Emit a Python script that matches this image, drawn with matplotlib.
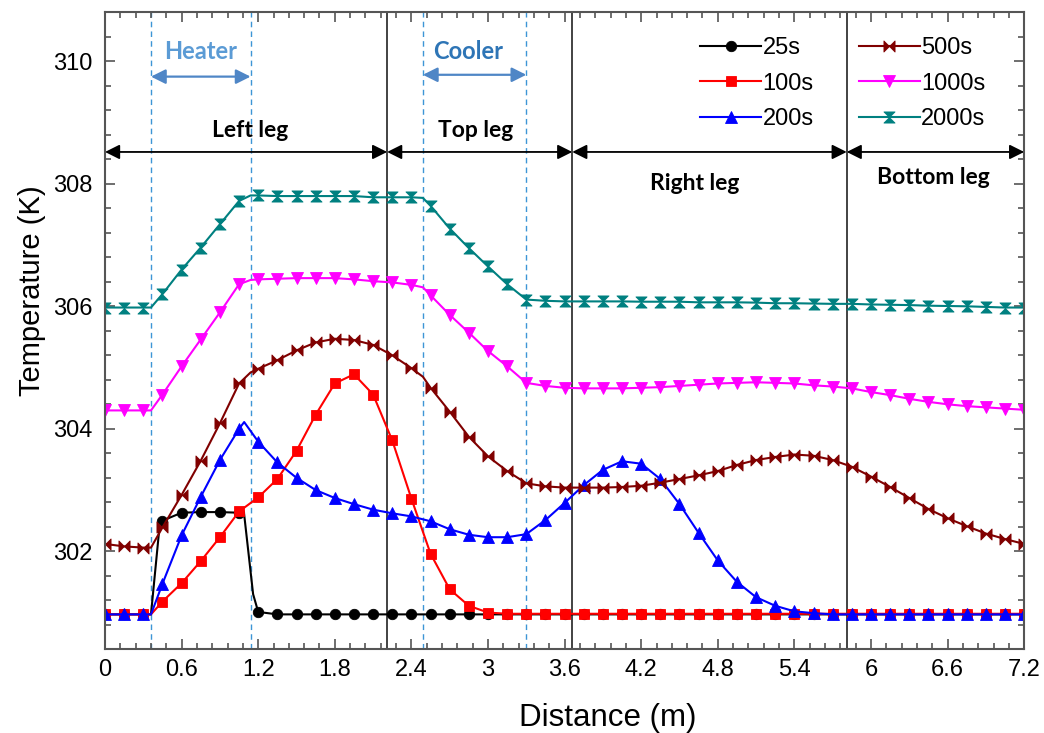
import numpy as np
import matplotlib
matplotlib.use('Agg')
import matplotlib.pyplot as plt
from matplotlib.path import Path

plt.rcParams['font.family'] = ['Liberation Sans', 'DejaVu Sans']

# sample positions (m), one marker every 0.15 m
dist = np.arange(0, 7.2001, 0.15)

t25 = [300.97, 300.97, 300.97, 302.50, 302.63, 302.64, 302.64, 302.63, 301.01,
       300.97, 300.97, 300.97, 300.97, 300.97, 300.97, 300.97, 300.97, 300.97,
       300.97, 300.97, 300.97, 300.97, 300.97, 300.97, 300.97, 300.97, 300.97,
       300.97, 300.97, 300.97, 300.97, 300.97, 300.97, 300.97, 300.97, 300.97,
       300.97, 300.97, 300.97, 300.97, 300.97, 300.97, 300.97, 300.97, 300.97,
       300.97, 300.97, 300.97, 300.97]
t100 = [300.97, 300.97, 300.97, 301.18, 301.48, 301.84, 302.23, 302.65, 302.88,
        303.18, 303.64, 304.23, 304.74, 304.89, 304.56, 303.81, 302.86, 301.96,
        301.38, 301.11, 301.00, 300.98, 300.98, 300.98, 300.98, 300.98, 300.98,
        300.98, 300.98, 300.98, 300.98, 300.98, 300.98, 300.98, 300.98, 300.98,
        300.98, 300.98, 300.98, 300.98, 300.98, 300.98, 300.98, 300.98, 300.98,
        300.98, 300.98, 300.98, 300.98]
t200 = [300.97, 300.97, 300.97, 301.47, 302.26, 302.89, 303.49, 304.00, 303.79,
        303.45, 303.20, 303.00, 302.87, 302.77, 302.68, 302.62, 302.57, 302.49,
        302.36, 302.27, 302.23, 302.23, 302.28, 302.51, 302.79, 303.08, 303.33,
        303.47, 303.43, 303.18, 302.77, 302.30, 301.85, 301.50, 301.25, 301.11,
        301.02, 300.99, 300.97, 300.97, 300.97, 300.97, 300.97, 300.97, 300.97,
        300.97, 300.97, 300.97, 300.97]
t500 = [302.12, 302.08, 302.06, 302.39, 302.92, 303.48, 304.09, 304.74, 304.98,
        305.12, 305.28, 305.41, 305.47, 305.45, 305.37, 305.20, 304.99, 304.67,
        304.28, 303.87, 303.55, 303.31, 303.11, 303.06, 303.04, 303.04, 303.04,
        303.05, 303.07, 303.12, 303.18, 303.24, 303.31, 303.41, 303.49, 303.54,
        303.58, 303.56, 303.49, 303.38, 303.22, 303.05, 302.87, 302.69, 302.54,
        302.41, 302.29, 302.20, 302.12]
t1000 = [304.30, 304.30, 304.30, 304.56, 305.02, 305.46, 305.90, 306.36, 306.44,
         306.45, 306.46, 306.46, 306.46, 306.44, 306.41, 306.39, 306.35, 306.18,
         305.86, 305.57, 305.27, 305.02, 304.75, 304.70, 304.67, 304.66, 304.66,
         304.66, 304.67, 304.68, 304.70, 304.72, 304.74, 304.75, 304.76, 304.75,
         304.74, 304.71, 304.69, 304.66, 304.60, 304.55, 304.49, 304.44, 304.40,
         304.37, 304.35, 304.33, 304.31]
t2000 = [305.98, 305.98, 305.98, 306.20, 306.60, 306.96, 307.34, 307.72, 307.81,
         307.80, 307.80, 307.80, 307.80, 307.80, 307.78, 307.78, 307.78, 307.64,
         307.27, 306.95, 306.65, 306.36, 306.11, 306.09, 306.08, 306.08, 306.08,
         306.08, 306.075, 306.075, 306.075, 306.065, 306.065, 306.065, 306.06, 306.05,
         306.05, 306.045, 306.04, 306.04, 306.03, 306.025, 306.02, 306.01, 306.005,
         306.0, 305.99, 305.98, 305.98]

# extra line vertices (no marker) where the curves bend at heater/cooler edges
k25 = ([0.36, 0.43, 1.09, 1.16], [300.97, 302.47, 302.60, 301.30])
k100 = ([0.36], [300.97])
k200 = ([0.36, 1.09], [300.97, 304.11])
k500 = ([0.36, 1.14, 2.49], [302.06, 304.92, 304.85])
k1000 = ([0.36, 1.14, 2.49], [304.30, 306.43, 306.31])
k2000 = ([0.36, 1.14, 2.49], [305.98, 307.81, 307.77])

labels = ['25s', '100s', '200s', '500s', '1000s', '2000s']

leg_edges = [0, 2.21, 3.66, 5.81, 7.2]
leg_names = ['Left leg', 'Top leg', 'Right leg', 'Bottom leg']
heater = [0.36, 1.14]
cooler = [2.49, 3.30]

bow_h = Path([(-1, -1), (-1, 1), (1, -1), (1, 1), (-1, -1)],
             [Path.MOVETO, Path.LINETO, Path.LINETO, Path.LINETO, Path.CLOSEPOLY])
bow_v = Path([(-1, -1), (1, -1), (-1, 1), (1, 1), (-1, -1)],
             [Path.MOVETO, Path.LINETO, Path.LINETO, Path.LINETO, Path.CLOSEPOLY])

styles = [('black', 'o', 7.5), ('#ff0000', 's', 7.5), ('#0000ff', '^', 8.5),
          ('#800000', bow_h, 8), ('#ff00ff', 'v', 8.5), ('#008080', bow_v, 8)]

fig = plt.figure(figsize=(10.44, 7.33), dpi=100)
ax = fig.add_axes([0.1006, 0.1142, 0.8804, 0.8690])

for vals, kinks, lab, (col, mk, ms) in zip([t25, t100, t200, t500, t1000, t2000],
                                           [k25, k100, k200, k500, k1000, k2000],
                                           labels, styles):
    xx = np.concatenate([dist, kinks[0]])
    yy = np.concatenate([vals, kinks[1]])
    show = np.concatenate([np.ones(len(dist), bool), np.zeros(len(kinks[0]), bool)])
    order = np.argsort(xx, kind='stable')
    ax.plot(xx[order], yy[order], color=col, lw=1.5, marker=mk, ms=ms,
            markevery=list(show[order]), mec=col, mew=0.6, label=lab)

# leg boundaries and heater / cooler edges
for xv in leg_edges[1:-1]:
    ax.axvline(xv, color='#222222', lw=1.2, zorder=0)
for xv in heater + cooler:
    ax.axvline(xv, color='#3d95d6', lw=1.0, ls=(0, (4, 3)), zorder=0)

arr_y = 308.52
for i in range(4):
    ax.annotate('', xy=(leg_edges[i + 1], arr_y), xytext=(leg_edges[i], arr_y),
                arrowprops=dict(arrowstyle='<|-|>', color='black', lw=1.3,
                                mutation_scale=22, shrinkA=0, shrinkB=0))
leg_text = [(1.14, 308.87), (2.90, 308.87), (4.62, 308.0), (6.49, 308.1)]
for (tx, ty), name in zip(leg_text, leg_names):
    ax.text(tx, ty, name, ha='center', va='center', fontsize=16.5,
            fontweight='bold', family=['Lato', 'DejaVu Sans'])

ax.annotate('', xy=(heater[1], 309.75), xytext=(heater[0], 309.75),
            arrowprops=dict(arrowstyle='<|-|>', color='#4f86c6', lw=1.6,
                            mutation_scale=22, shrinkA=0, shrinkB=0))
ax.annotate('', xy=(cooler[1], 309.78), xytext=(cooler[0], 309.78),
            arrowprops=dict(arrowstyle='<|-|>', color='#4f86c6', lw=1.6,
                            mutation_scale=22, shrinkA=0, shrinkB=0))
ax.text(0.75, 310.16, 'Heater', ha='center', va='center', fontsize=17,
        fontweight='bold', color='#5b9bd5', family=['Lato', 'DejaVu Sans'])
ax.text(2.845, 310.16, 'Cooler', ha='center', va='center', fontsize=17,
        fontweight='bold', color='#2e75b6', family=['Lato', 'DejaVu Sans'])

ax.set_xlim(0, 7.2)
ax.set_ylim(300.44, 310.8)
ax.set_xticks(np.arange(0, 7.21, 0.6))
ax.set_xticklabels(['0', '0.6', '1.2', '1.8', '2.4', '3', '3.6', '4.2', '4.8',
                    '5.4', '6', '6.6', '7.2'])
ax.set_xticks(np.arange(0, 7.21, 0.12), minor=True)
ax.set_yticks([302, 304, 306, 308, 310])
ax.set_yticks(np.arange(300.4, 310.81, 0.4), minor=True)
ax.tick_params(which='both', direction='in', top=True, right=True,
               colors='#555555', labelcolor='black', labelsize=17, width=1.2)
ax.tick_params(which='major', length=7, pad=9)
ax.tick_params(axis='x', which='major', pad=7)
ax.tick_params(which='minor', length=4)
for sp in ax.spines.values():
    sp.set_color('#555555')
    sp.set_linewidth(1.5)

ax.set_xlabel('Distance (m)', fontsize=22.5, labelpad=16)
ax.xaxis.label.set_x(0.547)
ax.set_ylabel('Temperature (K)', fontsize=21, labelpad=5)
ax.yaxis.label.set_y(0.563)

ax.legend(ncol=2, frameon=False, fontsize=17, loc='upper left',
          bbox_to_anchor=(700 / 1044, 1 - 37 / 733), bbox_transform=fig.transFigure,
          borderpad=0, handlelength=2.6, handletextpad=0.05, columnspacing=1.9,
          labelspacing=0.58, borderaxespad=0)

fig.savefig('out.png', dpi=100)
